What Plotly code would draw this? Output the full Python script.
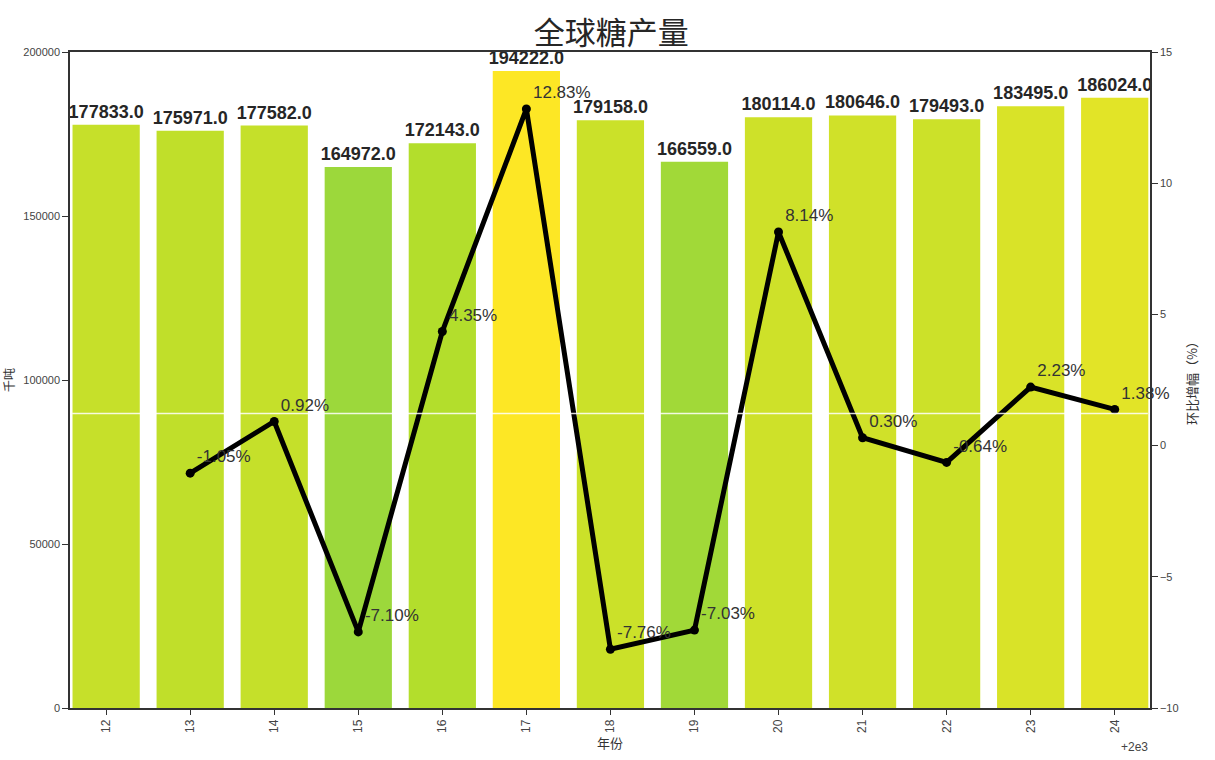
import plotly.graph_objects as go

years = [12, 13, 14, 15, 16, 17, 18, 19, 20, 21, 22, 23, 24]
production = [177833.0, 175971.0, 177582.0, 164972.0, 172143.0, 194222.0, 179158.0,
              166559.0, 180114.0, 180646.0, 179493.0, 183495.0, 186024.0]
growth_years = [13, 14, 15, 16, 17, 18, 19, 20, 21, 22, 23, 24]
growth = [-1.05, 0.92, -7.10, 4.35, 12.83, -7.76, -7.03, 8.14, 0.30, -0.64, 2.23, 1.38]

FONT = "Liberation Sans, Arial, Noto Sans CJK SC, sans-serif"
CJK = "Noto Sans CJK SC, Liberation Sans, sans-serif"

fig = go.Figure()
fig.add_trace(go.Bar(
    x=years, y=production, width=0.8,
    marker=dict(color=production, colorscale="Viridis", cmin=0, cmax=max(production),
                line=dict(width=0)),
    text=[f"{v:.1f}" for v in production], textposition="outside", constraintext="none",
    textfont=dict(family=FONT, size=18, color="#262626", weight="bold"),
    cliponaxis=False, showlegend=False,
))
fig.add_trace(go.Scatter(
    x=growth_years, y=growth, yaxis="y2", mode="lines+markers+text",
    line=dict(color="black", width=5), marker=dict(color="black", size=9),
    text=[f"{v:.2f}%" for v in growth], textposition="top right",
    textfont=dict(family=FONT, size=17, color="#333333"),
    cliponaxis=False, showlegend=False,
))

fig.update_layout(
    width=1215, height=760,
    margin=dict(l=70, r=65, t=52, b=52, autoexpand=False),
    paper_bgcolor="white", plot_bgcolor="white",
    title=dict(text="全球糖产量", x=0.503, xanchor="center", y=1 - 33 / 760, yanchor="middle",
               font=dict(family=CJK, size=31, color="#262626", weight="normal")),
    xaxis=dict(range=[11.57, 24.42], tickmode="array", tickvals=years,
               ticktext=[str(y) for y in years], tickangle=-90, automargin=False,
               showline=True, linecolor="#333333", linewidth=1.5, mirror=True,
               ticks="outside", ticklen=5, tickcolor="#333333",
               showgrid=False, zeroline=False,
               tickfont=dict(family=FONT, size=12, color="#444444"),
               title=dict(text="年份", font=dict(family=CJK, size=13, color="#333333"), standoff=6)),
    yaxis=dict(range=[0, 200000], tickmode="linear", tick0=0, dtick=50000, tickformat="d",
               automargin=False,
               showline=True, linecolor="#333333", linewidth=1.5,
               ticks="outside", ticklen=6, tickcolor="#333333",
               showgrid=False, zeroline=False,
               tickfont=dict(family=FONT, size=11, color="#444444"),
               title=dict(text="千吨", font=dict(family=CJK, size=12, color="#333333"), standoff=8)),
    yaxis2=dict(range=[-10, 15], tickmode="linear", tick0=-10, dtick=5,
                overlaying="y", side="right", automargin=False,
                showline=True, linecolor="#333333", linewidth=1.5,
                ticks="outside", ticklen=6, tickcolor="#333333",
                showgrid=False, zeroline=False,
                tickfont=dict(family=FONT, size=11, color="#444444"),
                title=dict(text="环比增幅（%）", font=dict(family=CJK, size=13, color="#333333"), standoff=10)),
    annotations=[dict(text="+2e3", xref="paper", yref="paper", x=1.0, y=-0.045,
                      xanchor="right", yanchor="top", showarrow=False,
                      font=dict(family=FONT, size=12, color="#444444"))],
    shapes=[dict(type="line", xref="paper", yref="paper", x0=0.002, x1=0.998,
                 y0=0.449, y1=0.449, line=dict(color="rgba(255,255,255,0.85)", width=1.5),
                 layer="above")],
)

fig.write_html("out.html")
